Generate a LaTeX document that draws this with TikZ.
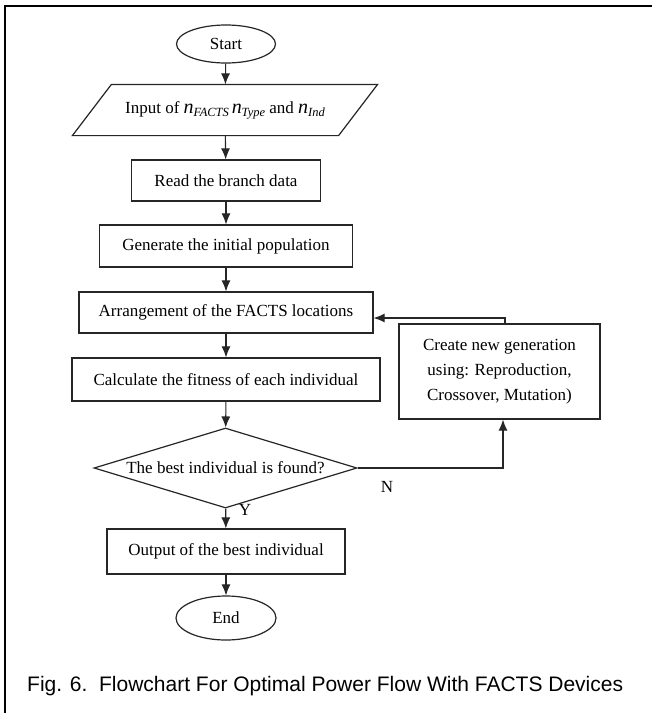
\documentclass[tikz,border=0pt]{standalone}
\usepackage{fontspec}
\setmainfont{Liberation Serif}
\newfontfamily\capfont{Liberation Sans}
\usetikzlibrary{shapes.geometric,arrows.meta}
\newcommand{\nsubx}[1]{{\fontsize{20}{20}\selectfont\itshape n}\raisebox{-0.35ex}{\fontsize{12.5}{12.5}\selectfont\itshape #1}}
\tikzset{
  base/.style={draw=black!85, line width=1.2pt, font=\fontsize{17}{24}\selectfont, inner sep=0pt, align=center},
  procbox/.style={base, rectangle},
  termbox/.style={base, ellipse},
  iobox/.style={base, draw=none, rectangle},
  decbox/.style={base, diamond},
  flow/.style={draw=black!85, line width=1.1pt, -{Latex[length=11pt,width=9pt]}},
  lbl/.style={font=\fontsize{17}{20}\selectfont, inner sep=0pt}
}
\begin{document}
\begin{tikzpicture}[x=1pt,y=-1pt]
\useasboundingbox (0,0) rectangle (652,713);
\fill[white] (0,0) rectangle (652,713);
% outer frame (right and bottom edges lie outside the picture)
\draw[line width=2pt] (5,713) -- (5,6) -- (652,6);

\node[termbox, minimum width=99pt, minimum height=38pt] (start) at (226,44) {Start};
\node[iobox, minimum width=265pt, minimum height=50pt] (input) at (225,110) {Input of \nsubx{FACTS}\,\nsubx{Type} and \nsubx{Ind}};
\draw[draw=black!85, line width=1.2pt] ([xshift=19.5pt]input.north west) -- ([xshift=19.5pt]input.north east) -- ([xshift=-19.5pt]input.south east) -- ([xshift=-19.5pt]input.south west) -- cycle;
\node[procbox, minimum width=189pt, minimum height=41pt] (read) at (226,180.5) {Read the branch data};
\node[procbox, minimum width=253pt, minimum height=42pt] (gen) at (226,246) {Generate the initial population};
\node[procbox, minimum width=294pt, minimum height=41pt] (arr) at (226,312.5) {Arrangement of the FACTS locations};
\node[procbox, minimum width=308pt, minimum height=43pt] (calc) at (226,379.5) {Calculate the fitness of each individual};
\node[decbox, minimum width=263pt, minimum height=80pt, aspect=3.3] (dec) at (225.5,468) {The best individual is found?};
\node[procbox, minimum width=201pt, minimum height=95pt, font=\fontsize{17}{25}\selectfont] (create) at (499.5,371.5) {Create new generation\\using: Reproduction,\\Crossover, Mutation)};
\node[procbox, minimum width=238pt, minimum height=45pt] (out) at (226,551.5) {Output of the best individual};
\node[termbox, minimum width=100pt, minimum height=44pt] (end) at (226,618) {End};

\path[flow] (start) -- (input);
\path[flow] (input) -- (read);
\path[flow] (read) -- (gen);
\path[flow] (gen) -- (arr);
\path[flow] (arr) -- (calc);
\path[flow] (calc) -- (dec);
\path[flow] (dec) -- (out);
\path[flow] (out) -- (end);
\path[flow] (dec.east) -| ([xshift=3.5pt]create.south);
\path[flow] ([xshift=5.5pt]create.north) |- ([yshift=-5.5pt]arr.east);

\node[lbl] (ylbl) at (245,510) {Y};
\node[lbl] (nlbl) at (387,487) {N};

\node[anchor=west, inner sep=0pt, font=\capfont\fontsize{21}{21}\selectfont] (cap) at (27,686) {Fig. 6.\ \ Flowchart For Optimal Power Flow With FACTS Devices};
\end{tikzpicture}
\end{document}
